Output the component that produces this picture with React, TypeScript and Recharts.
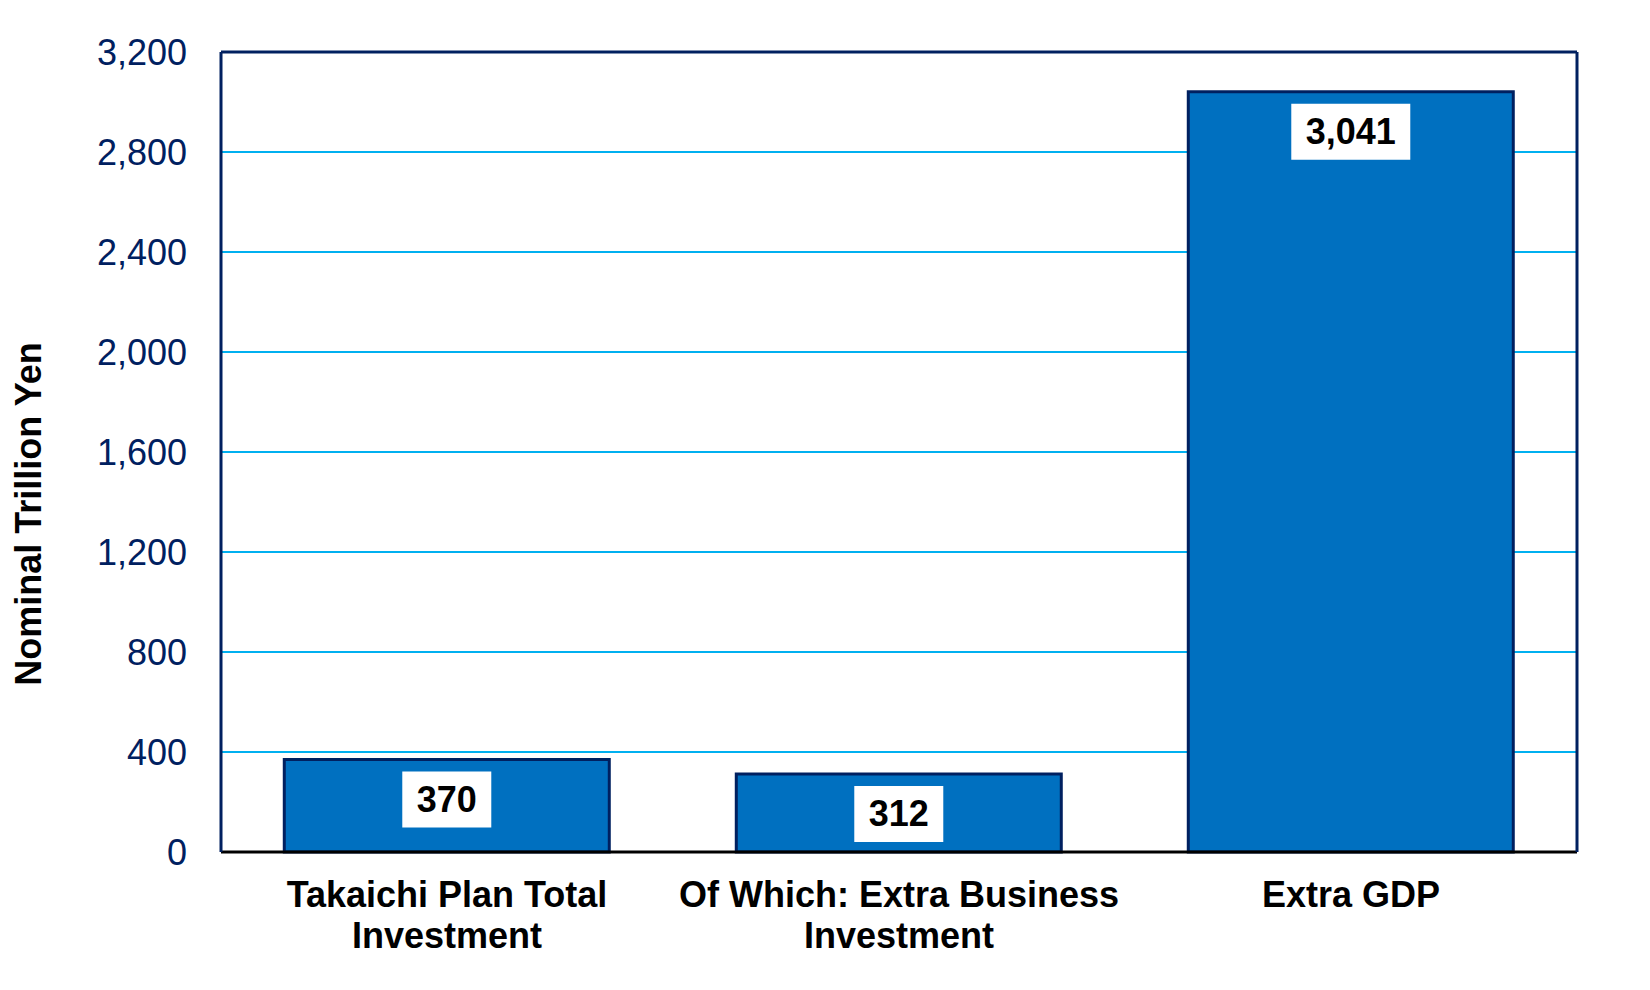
import { BarChart, Bar, XAxis, YAxis, CartesianGrid, LabelList, Label } from 'recharts';

// category names, split the way they wrap under the axis
const categoryLines = [
  ['Takaichi Plan Total', 'Investment'],
  ['Of Which: Extra Business', 'Investment'],
  ['Extra GDP'],
];
const categories = categoryLines.map(l => l.join(' '));
const values = [370, 312, 3041];
const yTicks = [0, 400, 800, 1200, 1600, 2000, 2400, 2800, 3200];
const yAxisTitle = 'Nominal Trillion Yen';

const data = categories.map((name, i) => ({ name, value: values[i] }));

const FONT = '"Liberation Sans", Arial, sans-serif';
const NAVY = '#002060';
const fmt = (v: number) => v.toLocaleString('en-US');

const CategoryTick = ({ x, y, payload }: any) => {
  const idx = categories.indexOf(payload.value);
  const lines = categoryLines[idx] || [payload.value];
  return (
    <text x={x} y={y} textAnchor="middle" fontFamily={FONT} fontSize={36} fontWeight="bold" fill="#000">
      {lines.map((l, i) => (
        <tspan key={i} x={x} dy={i === 0 ? 55 : 41}>{l}</tspan>
      ))}
    </text>
  );
};

// white box with the value, sitting near the top of each bar
const ValueBox = ({ x, y, width, value }: any) => {
  const s = fmt(value);
  const textW = [...s].reduce((a, c) => a + (c === ',' ? 10 : 20), 0);
  const w = textW + 29;
  const cx = x + width / 2;
  const top = y + 12;
  return (
    <g>
      <rect x={cx - w / 2} y={top} width={w} height={56} fill="#fff" />
      <text x={cx} y={top + 40} textAnchor="middle" fontFamily={FONT} fontSize={36} fontWeight="bold" fill="#000">{s}</text>
    </g>
  );
};

export default function App() {
  return (
    <div style={{ position: 'absolute', left: 0, top: 0, background: '#fff' }}>
      <BarChart width={1650} height={990} data={data} margin={{ top: 51, right: 72, left: 0, bottom: 0 }} barCategoryGap="14%">
        <CartesianGrid vertical={false} stroke="#00B0F0" strokeWidth={2} />
        <XAxis
          dataKey="name"
          height={138}
          axisLine={{ stroke: '#000', strokeWidth: 3 }}
          tickLine={false}
          tickSize={0}
          tickMargin={0}
          interval={0}
          tick={<CategoryTick />}
        />
        <XAxis xAxisId="top" orientation="top" dataKey="name" height={1} tick={false} tickLine={false} tickSize={0} axisLine={{ stroke: NAVY, strokeWidth: 3 }} />
        <YAxis
          width={221}
          domain={[0, 3200]}
          ticks={yTicks}
          interval={0}
          tickFormatter={fmt}
          tickLine={false}
          tickSize={0}
          tickMargin={34}
          axisLine={{ stroke: NAVY, strokeWidth: 3 }}
          tick={{ fill: NAVY, fontSize: 36, fontFamily: FONT }}
        >
          <Label
            content={() => (
              <text x={41} y={514} transform="rotate(-90, 41, 514)" textAnchor="middle" fontFamily={FONT} fontSize={36} fontWeight="bold" fill="#000">
                {yAxisTitle}
              </text>
            )}
          />
        </YAxis>
        <YAxis yAxisId="right" orientation="right" width={1} domain={[0, 3200]} tick={false} tickLine={false} tickSize={0} axisLine={{ stroke: NAVY, strokeWidth: 3 }} />
        <Bar dataKey="value" fill="#0070C0" stroke={NAVY} strokeWidth={3} isAnimationActive={false}>
          <LabelList dataKey="value" content={<ValueBox />} />
        </Bar>
      </BarChart>
    </div>
  );
}
